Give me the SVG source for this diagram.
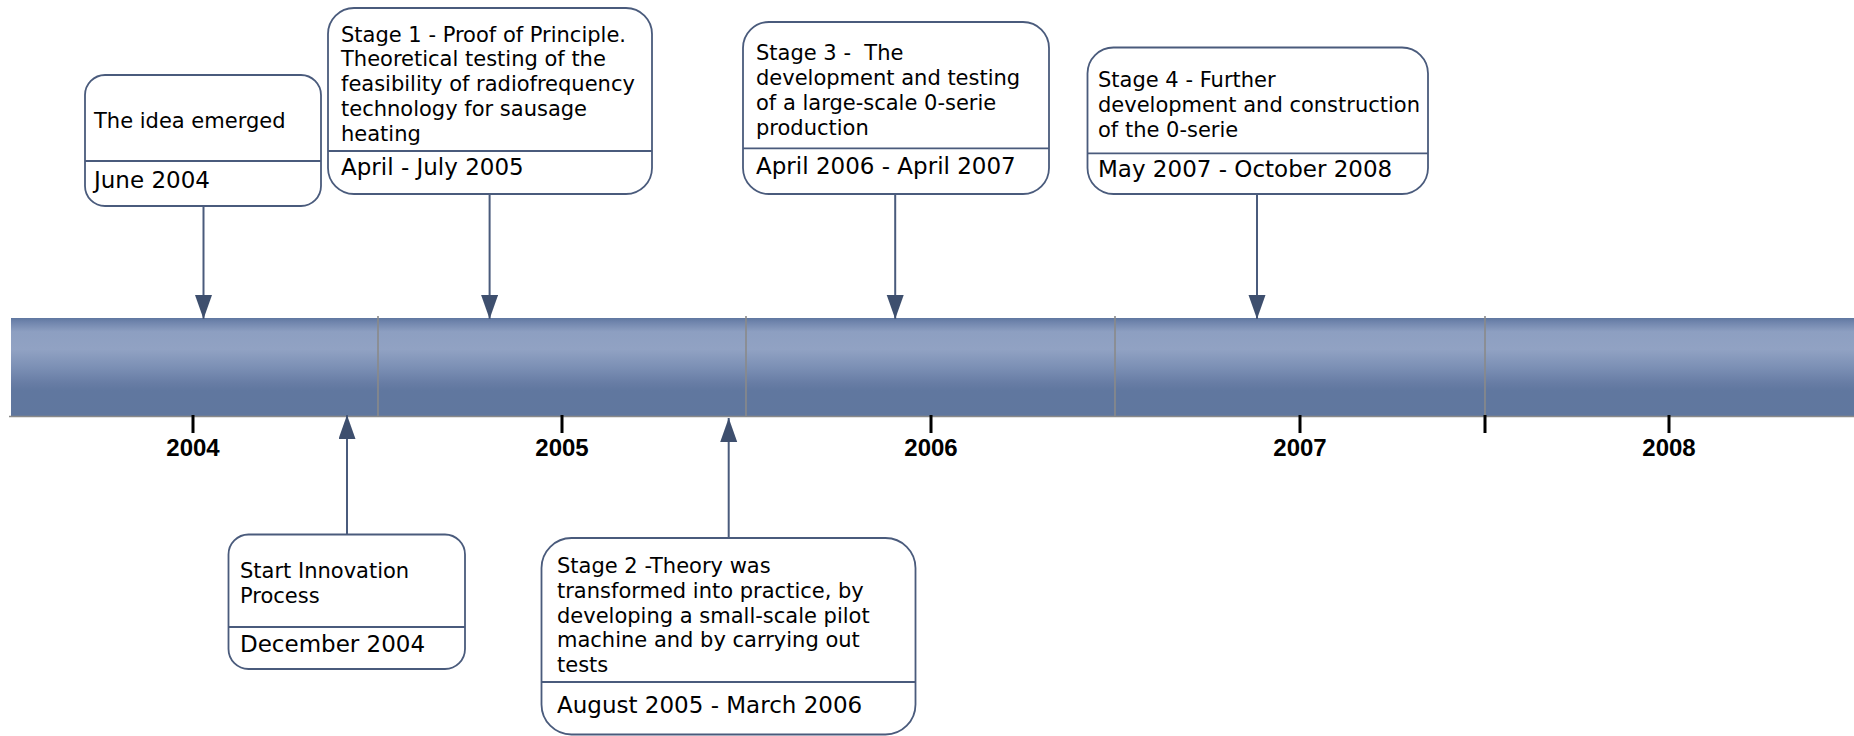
<svg xmlns="http://www.w3.org/2000/svg" width="1854" height="736" viewBox="0 0 1854 736">
  <defs>
    <linearGradient id="bandFill" x1="0" y1="0" x2="0" y2="1">
      <stop offset="0" stop-color="#5f77a0"/>
      <stop offset="0.04" stop-color="#6f84ac"/>
      <stop offset="0.14" stop-color="#8d9fc1"/>
      <stop offset="0.32" stop-color="#91a2c3"/>
      <stop offset="0.5" stop-color="#7c90b5"/>
      <stop offset="0.66" stop-color="#687da5"/>
      <stop offset="0.74" stop-color="#60779f"/>
      <stop offset="1" stop-color="#60779e"/>
    </linearGradient>
    <marker id="head" markerUnits="userSpaceOnUse" markerWidth="25" markerHeight="18" refX="24" refY="8.5" orient="auto">
      <path d="M0,0 L24,8.5 L0,17 Z" fill="#3e4f6e"/>
    </marker>
  </defs>
  <style>
    .box { fill: #ffffff; stroke: #4a5b7c; stroke-width: 1.8; }
    .div { stroke: #4a5b7c; stroke-width: 1.8; }
    .desc { font-family: "DejaVu Sans", Verdana, sans-serif; font-size: 21px; fill: #000000; }
    .date { font-family: "DejaVu Sans", Verdana, sans-serif; font-size: 23px; fill: #000000; }
    .year { font-family: "Liberation Sans", Arial, sans-serif; font-size: 24px; font-weight: bold; fill: #000000; text-anchor: middle; }
    .sep { stroke: #8a8a8a; stroke-width: 1.6; }
    .tick { stroke: #000000; stroke-width: 3; }
    .conn { stroke: #4a5b7c; stroke-width: 2; fill: none; marker-end: url(#head); }
  </style>

  <!-- timeline band -->
  <g id="timeline">
    <rect x="11" y="318" width="1843" height="98" fill="url(#bandFill)"/>
    <line x1="9" y1="416.5" x2="1854" y2="416.5" class="sep"/>
    <line x1="378" y1="316" x2="378" y2="417" class="sep"/>
    <line x1="746" y1="316" x2="746" y2="417" class="sep"/>
    <line x1="1115" y1="316" x2="1115" y2="417" class="sep"/>
    <line x1="1485" y1="316" x2="1485" y2="417" class="sep"/>
    <line x1="193" y1="415" x2="193" y2="433" class="tick"/>
    <line x1="562" y1="415" x2="562" y2="433" class="tick"/>
    <line x1="931" y1="415" x2="931" y2="433" class="tick"/>
    <line x1="1300" y1="415" x2="1300" y2="433" class="tick"/>
    <line x1="1485" y1="415" x2="1485" y2="433" class="tick"/>
    <line x1="1669" y1="415" x2="1669" y2="433" class="tick"/>
    <text x="193" y="456" class="year">2004</text>
    <text x="562" y="456" class="year">2005</text>
    <text x="931" y="456" class="year">2006</text>
    <text x="1300" y="456" class="year">2007</text>
    <text x="1669" y="456" class="year">2008</text>
  </g>

  <!-- connectors -->
  <g id="connectors">
    <line x1="203.5" y1="206" x2="203.5" y2="319" class="conn"/>
    <line x1="489.6" y1="194" x2="489.6" y2="319" class="conn"/>
    <line x1="895.2" y1="194" x2="895.2" y2="319" class="conn"/>
    <line x1="1257" y1="194" x2="1257" y2="319" class="conn"/>
    <line x1="347" y1="534.5" x2="347" y2="415" class="conn"/>
    <line x1="728.7" y1="538" x2="728.7" y2="418" class="conn"/>
  </g>

  <!-- events -->
  <g id="idea">
    <rect x="85" y="75" width="236" height="131" rx="20" class="box"/>
    <line x1="85" y1="161" x2="321" y2="161" class="div"/>
    <text x="94" y="128" class="desc">The idea emerged</text>
    <text x="94" y="188" class="date">June 2004</text>
  </g>

  <g id="stage1">
    <rect x="328" y="8" width="324" height="186" rx="26" class="box"/>
    <line x1="328" y1="151" x2="652" y2="151" class="div"/>
    <text class="desc">
      <tspan x="341" y="41.7">Stage 1 - Proof of Principle.</tspan>
      <tspan x="341" y="66.4">Theoretical testing of the</tspan>
      <tspan x="341" y="91.1">feasibility of radiofrequency</tspan>
      <tspan x="341" y="115.8">technology for sausage</tspan>
      <tspan x="341" y="140.5">heating</tspan>
    </text>
    <text x="341" y="175" class="date">April - July 2005</text>
  </g>

  <g id="stage3">
    <rect x="743" y="22" width="306" height="172" rx="26" class="box"/>
    <line x1="743" y1="148.3" x2="1049" y2="148.3" class="div"/>
    <text class="desc" xml:space="preserve"><tspan x="756" y="60">Stage 3 -  The</tspan><tspan x="756" y="85">development and testing</tspan><tspan x="756" y="110">of a large-scale 0-serie</tspan><tspan x="756" y="135">production</tspan></text>
    <text x="756" y="174" class="date">April 2006 - April 2007</text>
  </g>

  <g id="stage4">
    <rect x="1087.5" y="47.5" width="340.5" height="146.5" rx="26" class="box"/>
    <line x1="1087.5" y1="153.3" x2="1428" y2="153.3" class="div"/>
    <text class="desc">
      <tspan x="1098" y="87.2">Stage 4 - Further</tspan>
      <tspan x="1098" y="111.9">development and construction</tspan>
      <tspan x="1098" y="136.6">of the 0-serie</tspan>
    </text>
    <text x="1098" y="177.3" class="date">May 2007 - October 2008</text>
  </g>

  <g id="start">
    <rect x="228.5" y="534.5" width="236.5" height="134.5" rx="20" class="box"/>
    <line x1="228.5" y1="627" x2="465" y2="627" class="div"/>
    <text class="desc">
      <tspan x="240" y="578">Start Innovation</tspan>
      <tspan x="240" y="603">Process</tspan>
    </text>
    <text x="240" y="652" class="date">December 2004</text>
  </g>

  <g id="stage2">
    <rect x="541.5" y="538" width="374" height="196.5" rx="30" class="box"/>
    <line x1="541.5" y1="682" x2="915.5" y2="682" class="div"/>
    <text class="desc">
      <tspan x="557" y="573.3">Stage 2 -Theory was</tspan>
      <tspan x="557" y="598">transformed into practice, by</tspan>
      <tspan x="557" y="622.7">developing a small-scale pilot</tspan>
      <tspan x="557" y="647.4">machine and by carrying out</tspan>
      <tspan x="557" y="672.1">tests</tspan>
    </text>
    <text x="557" y="712.5" class="date">August 2005 - March 2006</text>
  </g>
</svg>
